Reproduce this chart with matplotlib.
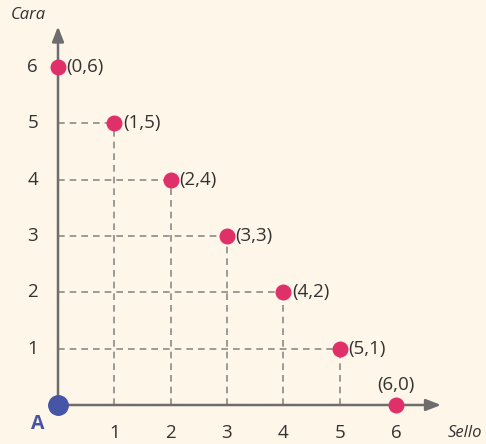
import matplotlib.pyplot as plt

# coin toss outcomes: (sello, cara)
sello = [0, 1, 2, 3, 4, 5, 6]
cara = [6, 5, 4, 3, 2, 1, 0]
point_labels = ['(0,6)', '(1,5)', '(2,4)', '(3,3)', '(4,2)', '(5,1)', '(6,0)']
ticks = [1, 2, 3, 4, 5, 6]

bg = '#fef6e8'
pink = '#e0306a'
blue = '#4655a5'
axis_gray = '#6d6d6d'
dash_gray = '#8a8a8a'
text_col = '#333333'

plt.rcParams['font.family'] = ['Open Sans', 'DejaVu Sans']

fig = plt.figure(figsize=(4.86, 4.44), dpi=100, facecolor=bg)
ax = fig.add_axes([0, 0, 1, 1])
ax.set_facecolor(bg)
scale = 56.33
ax.set_xlim(-58 / scale, (486 - 58) / scale)
ax.set_ylim((405 - 444) / scale, 405 / scale)
ax.axis('off')

# dashed guide lines
for x, y in zip(sello, cara):
    if x > 0 and y > 0:
        ax.plot([0, x], [y, y], ls=(0, (4, 3)), color=dash_gray, lw=1.2, zorder=1)
        ax.plot([x, x], [0, y], ls=(0, (4, 3)), color=dash_gray, lw=1.2, zorder=1)

# axes with arrows
ax.annotate('', xy=(6.8, 0), xytext=(0, 0),
            arrowprops=dict(arrowstyle='-|>,head_length=0.9,head_width=0.35',
                            color=axis_gray, lw=1.8, shrinkA=0, shrinkB=0), zorder=2)
ax.annotate('', xy=(0, 6.72), xytext=(0, 0),
            arrowprops=dict(arrowstyle='-|>,head_length=0.9,head_width=0.35',
                            color=axis_gray, lw=1.8, shrinkA=0, shrinkB=0), zorder=2)

# tick labels
for t in ticks:
    ax.text(t, -0.5, str(t), ha='center', va='center', fontsize=13.5, color=text_col)
    ax.text(-0.45, t, str(t), ha='center', va='center', fontsize=13.5, color=text_col)

ax.text(-0.52, 6.92, 'Cara', ha='center', va='center', fontsize=12,
        style='italic', color=text_col)
ax.text(7.22, -0.5, 'Sello', ha='center', va='center', fontsize=12,
        style='italic', color=text_col)

# points
ax.plot(sello, cara, 'o', color=pink, ms=10.5, zorder=3)
ax.plot([0], [0], 'o', color=blue, ms=14, zorder=4)
ax.text(-0.36, -0.34, 'A', ha='center', va='center', fontsize=14,
        fontweight='bold', color=blue)

for x, y, lab in zip(sello, cara, point_labels):
    if y == 0:
        ax.text(x, 0.2, lab, ha='center', va='bottom', fontsize=13.5, color=text_col)
    else:
        ax.text(x + 0.15, y, lab, ha='left', va='center', fontsize=13.5, color=text_col)

fig.savefig('out.png', dpi=100, facecolor=bg)
